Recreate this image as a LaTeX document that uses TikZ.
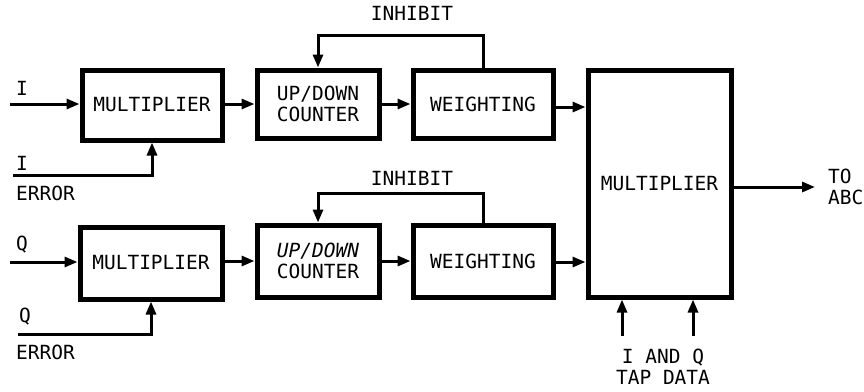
\documentclass[tikz,border=0pt]{standalone}
\usepackage{fontspec}
\newfontfamily\lbl{DejaVu Sans Mono}
\newfontfamily\lblit{DejaVu Sans Mono Oblique}
\usetikzlibrary{arrows.meta}
\begin{document}
\begin{tikzpicture}[x=1pt,y=-1pt,
  font=\lbl\fontsize{19.5}{21}\selectfont,
  blk/.style={draw, line width=5pt, inner sep=0pt, align=center},
  conn/.style={line width=3pt, -{Triangle[length=13pt,width=10pt]}},
  txt/.style={inner sep=0pt, align=left}]
\useasboundingbox (0,0) rectangle (864,391);

% blocks
\node[blk, minimum width=140, minimum height=70] (m1) at (152,105) {MULTIPLIER};
\node[blk, minimum width=122, minimum height=68] (c1) at (318,104) {UP/DOWN\\COUNTER};
\node[blk, minimum width=140, minimum height=68] (w1) at (483,104) {WEIGHTING};
\node[blk, minimum width=143, minimum height=227] (M) at (659.5,183.5) {MULTIPLIER};
\node[blk, minimum width=142, minimum height=72] (m2) at (151,263) {MULTIPLIER};
\node[blk, minimum width=122, minimum height=72] (c2) at (318,261) {{\lblit UP/DOWN}\\COUNTER};
\node[blk, minimum width=140, minimum height=72] (w2) at (483,261) {WEIGHTING};

% coordinates
\coordinate (iin) at (10,104);
\coordinate (ierr) at (13,175);
\coordinate (qin) at (10,262);
\coordinate (qerr) at (18,334);
\coordinate (inh1) at (0,35);
\coordinate (inh2) at (0,193);
\coordinate (out) at (815,187);
\coordinate (tap1) at (622,336);
\coordinate (tap2) at (693,336);

% labels
\node[txt] (li) at (22,88) {I};
\node[txt] (lie) at (22,163) {I};
\node[txt, anchor=west] (lier) at (16,193) {ERROR};
\node[txt] (lq) at (22,245) {Q};
\node[txt] (lqe) at (25,317) {Q};
\node[txt, anchor=west] (lqer) at (16,352) {ERROR};
\node[txt] (inht1) at (412,13) {INHIBIT};
\node[txt] (inht2) at (412,178) {INHIBIT};
\node[txt, anchor=west] (toabc) at (828,187) {TO\\ABC};
\node[txt, align=center] (tapt) at (663,367) {I AND Q\\TAP DATA};

% connectors top row
\draw[conn] (iin) -- (m1.west |- iin);
\draw[conn] (ierr) -| (m1.south);
\draw[conn] (m1.east |- c1.west) -- (c1.west);
\draw[conn] (c1.east) -- (w1.west);
\draw[conn] (w1.east |- 0,107) -- (M.west |- 0,107);
\draw[conn] (w1.north) |- (c1.north |- inh1) -- (c1.north);

% connectors bottom row
\draw[conn] (qin) -- (m2.west |- qin);
\draw[conn] (qerr) -| (m2.south);
\draw[conn] (m2.east |- c2.west) -- (c2.west);
\draw[conn] (c2.east) -- (w2.west);
\draw[conn] (w2.east |- 0,262) -- (M.west |- 0,262);
\draw[conn] (w2.north) |- (c2.north |- inh2) -- (c2.north);

% output and tap data
\draw[conn] (M.east |- out) -- (out);
\draw[conn] (tap1) -- (tap1 |- M.south);
\draw[conn] (tap2) -- (tap2 |- M.south);
\end{tikzpicture}
\end{document}
